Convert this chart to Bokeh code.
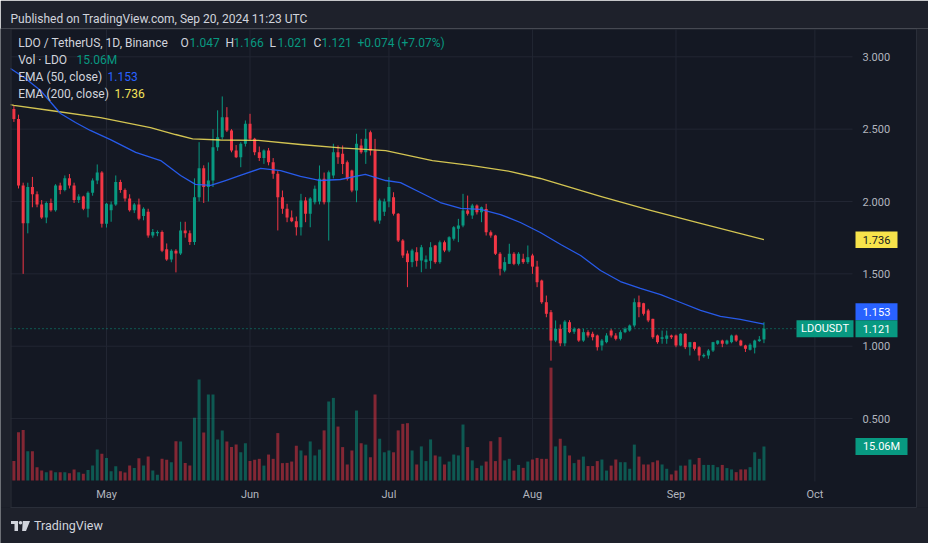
import pandas as pd
from bokeh.plotting import figure
from bokeh.models import Range1d, ColumnDataSource
from bokeh.core.properties import value
from bokeh.embed import file_html
from bokeh.resources import INLINE

# ---------------- data ----------------
dates = pd.date_range("2024-04-11", "2024-09-20", freq="D")

opens = [2.64, 2.57, 2.11, 1.85, 2.10, 2.05, 1.98, 1.89, 1.99, 1.94,
         2.11, 2.08, 2.16, 2.11, 2.01, 2.035, 1.95, 2.06, 2.145, 2.20,
         1.846, 1.94, 1.98, 2.134, 2.08, 2.02, 1.94, 1.98, 1.90, 1.93,
         1.765, 1.78, 1.79, 1.67, 1.60, 1.66, 1.64, 1.80, 1.78, 1.72,
         2.03, 2.23, 2.10, 2.145, 2.375, 2.444, 2.583, 2.49, 2.352, 2.306,
         2.399, 2.537, 2.433, 2.341, 2.30, 2.352, 2.272, 2.191, 2.03, 1.95,
         1.89, 1.864, 1.822, 2.007, 1.915, 1.995, 2.0, 2.157, 1.995, 2.18,
         2.341, 2.33, 2.272, 2.214, 2.076, 2.387, 2.341, 2.479, 2.352, 1.869,
         1.93, 2.00, 2.03, 1.915, 1.73, 1.64, 1.581, 1.65, 1.592, 1.581,
         1.59, 1.696, 1.581, 1.719, 1.661, 1.742, 1.811, 1.834, 1.938, 1.903,
         1.972, 1.926, 1.949, 1.788, 1.765, 1.639, 1.523, 1.569, 1.639, 1.569,
         1.604, 1.581, 1.627, 1.55, 1.454, 1.304, 1.235, 1.039, 1.12, 1.02,
         1.166, 1.10, 1.12, 1.039, 1.097, 1.086, 1.074, 1.005, 1.028, 1.108,
         1.074, 1.051, 1.097, 1.108, 1.143, 1.304, 1.297, 1.247, 1.189, 1.074,
         1.051, 1.051, 1.074, 1.074, 1.005, 1.086, 0.993, 1.028, 0.993, 0.93,
         0.936, 0.97, 1.017, 1.039, 1.017, 1.028, 1.074, 1.039, 1.005, 0.975,
         0.99, 1.035, 1.047]

highs = [2.66, 2.60, 2.13, 2.13, 2.17, 2.07, 2.01, 2.00, 2.02, 2.12,
         2.13, 2.18, 2.19, 2.13, 2.05, 2.04, 2.07, 2.16, 2.256, 2.21,
         1.99, 2.00, 2.18, 2.15, 2.09, 2.05, 1.99, 2.02, 1.96, 1.95,
         1.81, 1.80, 1.80, 1.71, 1.67, 1.67, 1.86, 1.86, 1.80, 2.16,
         2.41, 2.25, 2.27, 2.50, 2.63, 2.726, 2.652, 2.50, 2.39, 2.41,
         2.56, 2.606, 2.44, 2.38, 2.36, 2.37, 2.30, 2.21, 2.076, 1.984,
         1.938, 1.896, 2.053, 2.03, 2.03, 2.11, 2.249, 2.20, 2.214, 2.399,
         2.387, 2.387, 2.283, 2.22, 2.468, 2.433, 2.502, 2.49, 2.433, 2.02,
         2.02, 2.168, 2.064, 1.92, 1.74, 1.661, 1.673, 1.684, 1.70, 1.627,
         1.719, 1.70, 1.73, 1.73, 1.76, 1.83, 1.88, 2.053, 2.041, 1.984,
         1.98, 1.965, 1.984, 1.80, 1.77, 1.65, 1.615, 1.708, 1.65, 1.65,
         1.639, 1.696, 1.639, 1.59, 1.46, 1.35, 1.25, 1.178, 1.15, 1.18,
         1.18, 1.13, 1.125, 1.12, 1.11, 1.10, 1.08, 1.05, 1.09, 1.12,
         1.09, 1.11, 1.13, 1.15, 1.33, 1.35, 1.30, 1.258, 1.19, 1.08,
         1.108, 1.108, 1.08, 1.08, 1.09, 1.09, 1.03, 1.03, 1.0, 0.95,
         0.98, 1.03, 1.04, 1.045, 1.045, 1.08, 1.08, 1.045, 1.01, 1.02,
         1.045, 1.07, 1.166]

lows = [2.55, 2.09, 1.50, 1.78, 1.96, 1.96, 1.88, 1.85, 1.93, 1.93,
        2.05, 2.07, 2.09, 1.99, 1.99, 1.94, 1.89, 2.04, 2.12, 1.82,
        1.82, 1.86, 1.97, 2.06, 2.00, 1.93, 1.92, 1.87, 1.87, 1.75,
        1.75, 1.76, 1.65, 1.59, 1.58, 1.51, 1.63, 1.75, 1.70, 1.70,
        2.00, 1.99, 2.00, 2.10, 2.35, 2.43, 2.48, 2.34, 2.30, 2.237,
        2.38, 2.42, 2.32, 2.28, 2.26, 2.25, 2.157, 1.80, 1.915, 1.857,
        1.857, 1.765, 1.765, 1.857, 1.822, 1.98, 1.98, 1.98, 1.73, 2.16,
        2.26, 2.19, 2.145, 2.064, 1.995, 2.33, 2.26, 2.318, 1.857, 1.846,
        1.90, 1.96, 1.903, 1.72, 1.61, 1.408, 1.546, 1.55, 1.511, 1.535,
        1.535, 1.57, 1.57, 1.65, 1.65, 1.73, 1.719, 1.822, 1.903, 1.88,
        1.91, 1.857, 1.765, 1.75, 1.63, 1.489, 1.511, 1.569, 1.56, 1.558,
        1.569, 1.569, 1.50, 1.408, 1.293, 1.20, 0.90, 1.028, 1.0, 1.0,
        1.09, 1.085, 1.03, 1.03, 1.06, 1.04, 0.97, 0.97, 1.02, 1.06,
        1.04, 1.04, 1.09, 1.10, 1.13, 1.20, 1.212, 1.166, 1.051, 1.017,
        1.017, 1.017, 1.05, 0.993, 1.0, 0.98, 0.936, 0.97, 0.90, 0.92,
        0.913, 0.96, 1.01, 0.993, 1.01, 1.02, 1.03, 1.0, 0.96, 0.97,
        0.95, 1.03, 1.021]

closes = [2.57, 2.11, 1.85, 2.10, 2.05, 1.98, 1.89, 1.99, 1.94, 2.11,
          2.08, 2.16, 2.11, 2.01, 2.035, 1.95, 2.06, 2.145, 2.20, 1.846,
          1.984, 1.98, 2.134, 2.08, 2.02, 1.94, 1.98, 1.88, 1.95, 1.765,
          1.79, 1.79, 1.66, 1.60, 1.66, 1.64, 1.80, 1.78, 1.72, 2.03,
          2.23, 2.10, 2.145, 2.375, 2.444, 2.583, 2.49, 2.352, 2.306, 2.399,
          2.537, 2.433, 2.341, 2.30, 2.352, 2.272, 2.191, 2.03, 1.95, 1.89,
          1.864, 1.822, 2.007, 1.915, 2.02, 2.088, 2.157, 1.995, 2.203, 2.341,
          2.306, 2.26, 2.157, 2.076, 2.399, 2.341, 2.433, 2.352, 1.869, 2.007,
          2.00, 2.10, 1.915, 1.73, 1.627, 1.581, 1.661, 1.59, 1.684, 1.60,
          1.684, 1.581, 1.719, 1.661, 1.753, 1.822, 1.834, 1.938, 1.915, 1.972,
          1.926, 1.961, 1.788, 1.765, 1.639, 1.535, 1.581, 1.639, 1.569, 1.639,
          1.581, 1.615, 1.55, 1.442, 1.304, 1.224, 1.039, 1.12, 1.02, 1.17,
          1.097, 1.12, 1.039, 1.097, 1.074, 1.062, 0.993, 1.039, 1.074, 1.074,
          1.051, 1.097, 1.12, 1.143, 1.304, 1.27, 1.224, 1.178, 1.062, 1.028,
          1.062, 1.074, 1.062, 1.005, 1.086, 0.993, 1.028, 0.982, 0.936, 0.94,
          0.97, 1.028, 1.039, 1.017, 1.039, 1.074, 1.039, 1.005, 0.982, 1.01,
          1.039, 1.047, 1.121]

volumes_m = [8.6, 21.4, 22.4, 13.0, 13.0, 5.9, 4.4, 3.7, 4.4, 3.7,
             3.7, 3.7, 3.2, 4.9, 3.7, 3.0, 4.7, 6.6, 13.7, 11.8,
             10.0, 4.1, 6.3, 4.1, 3.5, 6.6, 5.5, 9.9, 6.6, 10.6,
             4.4, 2.5, 9.6, 9.2, 8.1, 17.4, 17.3, 7.7, 6.6, 27.8,
             44.7, 21.3, 38.1, 38.1, 18.2, 22.1, 17.3, 14.8, 15.9, 12.5,
             16.5, 8.6, 9.2, 9.6, 6.6, 11.5, 9.6, 21.0, 7.7, 7.8,
             8.4, 15.4, 13.3, 11.1, 17.3, 11.1, 13.7, 22.2, 35.0, 36.6,
             23.9, 14.8, 7.1, 13.3, 31.0, 16.5, 15.9, 10.3, 38.1, 18.5,
             12.5, 13.3, 12.5, 22.2, 25.1, 25.4, 13.3, 7.1, 15.1, 8.6,
             18.2, 11.1, 10.6, 7.1, 8.4, 11.5, 11.1, 24.8, 14.8, 8.9,
             5.5, 6.6, 8.4, 17.4, 8.6, 19.2, 8.9, 9.6, 4.4, 6.9,
             5.6, 8.4, 9.3, 10.0, 9.6, 9.6, 50.0, 15.1, 18.5, 15.4,
             11.1, 7.7, 9.2, 10.6, 6.4, 6.4, 8.6, 9.3, 4.4, 6.6,
             9.3, 8.1, 8.1, 5.2, 15.9, 10.6, 7.1, 7.1, 8.1, 8.9,
             7.1, 5.2, 2.7, 4.4, 6.6, 6.6, 9.3, 7.1, 10.0, 6.9,
             6.9, 6.9, 5.9, 6.9, 5.5, 4.9, 3.7, 4.9, 4.9, 5.9,
             12.5, 9.6, 15.06]

# EMA readings (day offset from first candle, value)
ema50_day = [-0.73, 2.5, 5.75, 10.06, 13.3, 16.5, 20.86, 26.3, 31.7, 36.0, 39.2, 42.5,
             45.7, 48.9, 53.3, 57.6, 61.9, 66.2, 70.5, 75.9, 80.3, 83.5, 87.8, 92.1,
             96.5, 100.8, 105.1, 109.4, 113.7, 118.1, 122.4, 126.7, 131.0, 135.3,
             139.7, 144.0, 148.3, 152.6, 156.9, 162]
ema50_val = [2.919, 2.85, 2.767, 2.608, 2.546, 2.491, 2.428, 2.339, 2.283, 2.18, 2.118, 2.111,
             2.145, 2.18, 2.229, 2.214, 2.173, 2.145, 2.152, 2.187, 2.145, 2.131, 2.062, 1.993,
             1.952, 1.945, 1.91, 1.855, 1.786, 1.703, 1.627, 1.523, 1.447, 1.399,
             1.357, 1.302, 1.247, 1.206, 1.185, 1.153]
ema200_day = [-0.73, 0, 7.9, 18.7, 29.5, 34.9, 38.6, 44.6, 52.8, 61.9, 70.5, 80.3, 90.4,
              98.6, 107.3, 113.7, 120.2, 126.7, 137.5, 148.3, 162]
ema200_val = [2.67, 2.665, 2.629, 2.58, 2.511, 2.463, 2.433, 2.425, 2.422, 2.394, 2.37, 2.352,
              2.283, 2.249, 2.207, 2.159, 2.097, 2.035, 1.938, 1.848, 1.736]

month_starts = ["2024-05-01", "2024-06-01", "2024-07-01", "2024-08-01", "2024-09-01", "2024-10-01"]
month_labels = ["May", "Jun", "Jul", "Aug", "Sep", "Oct"]
price_ticks = [0.5, 1.0, 1.5, 2.0, 2.5, 3.0]

# ---------------- geometry / style ----------------
PANEL = "#141823"
OUTER = "#1e212b"
GRID = "#222633"
EDGE = "#2a2e39"
TXT = "#d1d4dc"
AXT = "#b2b5be"
UP = "#089981"
DN = "#f23645"
BLUE = "#2962ff"
YEL = "#f5e35a"
FONT = value("Roboto")

DAY = 86400000.0
t0 = pd.Timestamp(dates[0]).value / 1e6
PX0, PXD = 13.4, 4.63          # x pixel of first candle, pixels per day
PY1, PPU = 345.7, 144.7        # y pixel of price 1.0, pixels per price unit
VBASE, VPX = 480.0, 0.443      # volume baseline pixel, millions per pixel
TOP, BOT = 28, 543             # frame top / bottom pixel


def X(px):
    return t0 + (px - PX0) / PXD * DAY


def Y(py):
    return 1 + (PY1 - py) / PPU


def PYof(price):
    return PY1 - (price - 1) * PPU


p = figure(width=928, height=543, x_axis_location=None, y_axis_location=None,
           output_backend="svg", toolbar_location=None,
           x_range=Range1d(X(0), X(928)), y_range=Range1d(Y(BOT), Y(TOP)),
           min_border_left=0, min_border_right=0, min_border_top=TOP, min_border_bottom=0,
           background_fill_color=PANEL, border_fill_color=OUTER, outline_line_color=None)
p.extra_y_ranges = {"vol": Range1d(-(BOT - VBASE) * VPX, (VBASE - TOP) * VPX)}
p.xgrid.visible = False
p.ygrid.visible = False

# header title
p.title.text = "Published on TradingView.com, Sep 20, 2024 11:23 UTC"
p.title.text_color = TXT
p.title.text_font = "Roboto"
p.title.text_font_size = "12px"
p.title.text_font_style = "normal"
p.title.align = "left"
p.title.offset = 10
p.title.standoff = 6

# outer frame areas (outside the chart panel)
p.quad(left=[X(0), X(916), X(0)], right=[X(10), X(928), X(928)],
       bottom=[Y(507), Y(507), Y(BOT)], top=[Y(TOP), Y(TOP), Y(507)],
       fill_color=OUTER, line_color=None)

# grid lines
mx = [pd.Timestamp(m) for m in month_starts]
p.segment(x0=mx, x1=mx, y0=[Y(29)] * len(mx), y1=[Y(481)] * len(mx), line_color=GRID, line_width=1)
p.segment(x0=[X(10)] * len(price_ticks), x1=[X(852)] * len(price_ticks),
          y0=price_ticks, y1=price_ticks, line_color=GRID, line_width=1)

# volume
vcol = [UP if c >= o else DN for o, c in zip(opens, closes)]
vsrc = ColumnDataSource(dict(x=dates, top=volumes_m, color=vcol))
p.vbar(x="x", top="top", bottom=0, width=0.65 * DAY, fill_color="color", fill_alpha=0.5,
       line_color=None, y_range_name="vol", source=vsrc)

# candles
minb = 1.0 / PPU
btop, bbot = [], []
for o, c in zip(opens, closes):
    t, b = max(o, c), min(o, c)
    if t - b < minb:
        m = (t + b) / 2
        t, b = m + minb / 2, m - minb / 2
    btop.append(t)
    bbot.append(b)
csrc = ColumnDataSource(dict(x=dates, h=highs, l=lows, t=btop, b=bbot, color=vcol))
p.segment(x0="x", y0="l", x1="x", y1="h", line_color="color", line_width=1, source=csrc)
p.vbar(x="x", top="t", bottom="b", width=0.65 * DAY, fill_color="color", line_color=None, source=csrc)

# EMA lines
p.line([t0 + d * DAY for d in ema200_day], ema200_val, line_color=YEL, line_alpha=0.85,
       line_width=1.3, line_join="round")
p.line([t0 + d * DAY for d in ema50_day], ema50_val, line_color=BLUE, line_alpha=0.9,
       line_width=1.3, line_join="round")

# last price dotted line
last = closes[-1]
p.segment(x0=[X(10)], x1=[X(796)], y0=[last], y1=[last], line_color=UP, line_dash="1 3", line_width=1)

# panel border
p.segment(x0=[X(10.5), X(916), X(10), X(10)], x1=[X(10.5), X(916), X(916), X(916)],
          y0=[Y(507), Y(507), Y(28.5), Y(507)], y1=[Y(28.5), Y(28.5), Y(28.5), Y(507)],
          line_color=EDGE, line_width=1)


def txt(px, py, s, color, size="12px", align="left", style="normal"):
    p.text(x=[X(px)], y=[Y(py)], text=[s], text_color=color, text_font=FONT,
           text_font_size=value(size), text_align=align, text_baseline="middle",
           text_font_style=style)


# time scale labels
p.text(x=mx, y=[Y(494)] * len(mx), text=month_labels, text_color=AXT, text_font=FONT,
       text_font_size=value("11px"), text_align="center", text_baseline="middle")

# price scale labels
for v in price_ticks:
    txt(862, PYof(v), f"{v:.3f}", AXT, size="11px")


def box(x0, x1, cy, h, fill, s, color):
    p.quad(left=[X(x0)], right=[X(x1)], bottom=[Y(cy + h / 2)], top=[Y(cy - h / 2)],
           fill_color=fill, line_color=None)
    txt((x0 + x1) / 2, cy, s, color, size="11px", align="center")


cy_last = PYof(last)
box(855, 897, PYof(ema200_val[-1]), 16.5, "#f7e34b", f"{ema200_val[-1]:.3f}", "#131722")
box(855, 897, cy_last - 17, 17, BLUE, f"{ema50_val[-1]:.3f}", "#ffffff")
box(855, 897, cy_last, 17, UP, f"{last:.3f}", "#ffffff")
box(796, 853, cy_last, 17, UP, "LDOUSDT", "#ffffff")
box(855, 907, VBASE - volumes_m[-1] / VPX, 17, UP, f"{volumes_m[-1]:.2f}M", "#ffffff")

# legend
chg = closes[-1] - closes[-2]
pct = chg / closes[-2] * 100
txt(17.7, 42, "LDO / TetherUS, 1D, Binance", TXT)
txt(180, 42, "O", TXT)
txt(189, 42, f"{opens[-1]:.3f}", UP)
txt(225, 42, "H", TXT)
txt(233, 42, f"{highs[-1]:.3f}", UP)
txt(269, 42, "L", TXT)
txt(277, 42, f"{lows[-1]:.3f}", UP)
txt(313, 42, "C", TXT)
txt(321, 42, f"{closes[-1]:.3f}", UP)
txt(357, 42, f"{chg:+.3f} ({pct:+.2f}%)", UP)
txt(17.7, 59, "Vol · LDO", TXT)
txt(76, 59, f"{volumes_m[-1]:.2f}M", UP)
txt(17.7, 76, "EMA (50, close)", TXT)
txt(107, 76, f"{ema50_val[-1]:.3f}", BLUE)
txt(17.7, 93, "EMA (200, close)", TXT)
txt(114, 93, f"{ema200_val[-1]:.3f}", YEL)

# footer brand: small logo mark + name
p.quad(left=[X(10.5), X(14)], right=[X(17.5), X(17.5)], bottom=[Y(523.5), Y(530.5)],
       top=[Y(520.5), Y(520.5)], fill_color=TXT, line_color=None)
p.scatter(x=[X(20)], y=[Y(522.3)], size=3.6, marker="circle", fill_color=TXT, line_color=None)
p.patch(x=[X(22.3), X(29.5), X(25.5), X(21.6)], y=[Y(520.5), Y(520.5), Y(530.5), Y(530.5)],
        fill_color=TXT, line_color=None)
txt(33.5, 525, "TradingView", TXT, size="12.5px")

open("out.html", "w").write(file_html(p, INLINE))
